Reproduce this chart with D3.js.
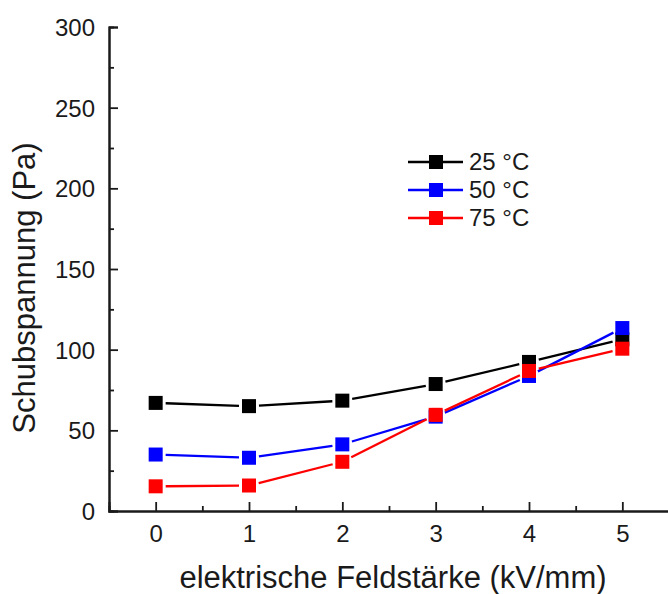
<!DOCTYPE html>
<html>
<head>
<meta charset="utf-8">
<script src="https://cdn.jsdelivr.net/npm/d3@7"></script>
<style>
  html, body { margin: 0; padding: 0; background: #fff; }
  svg { display: block; font-family: "Liberation Sans", Arial, sans-serif; }
</style>
</head>
<body>
<svg id="chart" width="668" height="594"></svg>
<script>
// Electric field strength (kV/mm)
const fieldStrength = [0, 1, 2, 3, 4, 5];

// Shear stress (Pa) per temperature
const stress25 = [67, 65, 68.4, 78.7, 92.4, 106.4];
const stress50 = [35, 33, 41.3, 58.5, 83.7, 113.4];
const stress75 = [15.3, 15.8, 30.5, 59.6, 86.8, 100.6];

// Standard deviations (Pa)
const err25 = [1, 1, 1, 1.5, 1.5, 2];
const err50 = [1, 1, 1.5, 3, 3.5, 2];
const err75 = [1, 1, 3.5, 4, 2, 1.5];

const seriesNames = ["25 °C", "50 °C", "75 °C"];
const seriesColors = ["#000000", "#0000ff", "#ff0000"];

const yTicks = [0, 50, 100, 150, 200, 250, 300];
const xTicks = [0, 1, 2, 3, 4, 5];

const series = [
  { name: seriesNames[0], color: seriesColors[0], values: stress25, errors: err25 },
  { name: seriesNames[1], color: seriesColors[1], values: stress50, errors: err50 },
  { name: seriesNames[2], color: seriesColors[2], values: stress75, errors: err75 }
];

const svg = d3.select("#chart");
const plotLeft = 109, plotRight = 669, plotTop = 27, plotBottom = 511;
const ink = "#1a1a1a";

const x = d3.scaleLinear().domain([-0.5, 5.5]).range([plotLeft, plotRight]);
const y = d3.scaleLinear().domain([0, 300]).range([plotBottom, plotTop]);

// Axes with inward ticks
const yAxis = svg.append("g").attr("transform", `translate(${plotLeft},0)`)
  .call(d3.axisLeft(y).tickValues(yTicks).tickSize(-9).tickPadding(14).tickFormat(d3.format("d")));
const yMinor = svg.append("g").attr("transform", `translate(${plotLeft},0)`)
  .call(d3.axisLeft(y).tickValues(d3.range(25, 300, 50)).tickSize(-5).tickFormat(""));
const xAxis = svg.append("g").attr("transform", `translate(0,${plotBottom})`)
  .call(d3.axisBottom(x).tickValues(xTicks).tickSize(-9).tickPadding(14).tickFormat(d3.format("d")));
const xMinor = svg.append("g").attr("transform", `translate(0,${plotBottom})`)
  .call(d3.axisBottom(x).tickValues(d3.range(0.5, 5, 1)).tickSize(-5).tickFormat(""));

[yAxis, yMinor, xAxis, xMinor].forEach(g => {
  g.selectAll(".domain").attr("stroke", ink).attr("stroke-width", 2);
  g.selectAll(".tick line").attr("stroke", ink).attr("stroke-width", 1.8);
  g.selectAll(".tick text").attr("font-size", 24).attr("fill", ink)
    .attr("font-family", "'Liberation Sans', Arial, sans-serif");
});
yAxis.selectAll(".tick text").attr("dy", "0.35em");

// Axis titles
svg.append("text")
  .attr("transform", `translate(35,288) rotate(-90)`)
  .attr("text-anchor", "middle").attr("font-size", 31).attr("fill", ink)
  .text("Schubspannung (Pa)");
svg.append("text")
  .attr("x", 393).attr("y", 588)
  .attr("text-anchor", "middle").attr("font-size", 31).attr("fill", ink)
  .text("elektrische Feldstärke (kV/mm)");

const sq = 14, gap = 10;

// Connecting segments, stopping short of each marker
function segments(s) {
  const segs = [];
  for (let i = 0; i < fieldStrength.length - 1; i++) {
    const x0 = x(fieldStrength[i]), y0 = y(s.values[i]);
    const x1 = x(fieldStrength[i + 1]), y1 = y(s.values[i + 1]);
    const len = Math.hypot(x1 - x0, y1 - y0);
    const ux = (x1 - x0) / len, uy = (y1 - y0) / len;
    segs.push([x0 + ux * gap, y0 + uy * gap, x1 - ux * gap, y1 - uy * gap]);
  }
  return segs;
}

const drawOrder = [0, 1, 2];
drawOrder.forEach(k => {
  const s = series[k];
  const g = svg.append("g");
  g.selectAll("line.seg").data(segments(s)).join("line")
    .attr("x1", d => d[0]).attr("y1", d => d[1])
    .attr("x2", d => d[2]).attr("y2", d => d[3])
    .attr("stroke", s.color).attr("stroke-width", 2.3);
});
drawOrder.forEach(k => {
  const s = series[k];
  const g = svg.append("g");
  const pts = fieldStrength.map((f, i) => ({ f, v: s.values[i], e: s.errors[i] }));
  // error bars
  g.selectAll("path.err").data(pts).join("path")
    .attr("d", d => {
      const cx = x(d.f), yt = y(d.v + d.e), yb = y(d.v - d.e);
      return `M${cx - 4},${yt}H${cx + 4}M${cx},${yt}V${yb}M${cx - 4},${yb}H${cx + 4}`;
    })
    .attr("stroke", s.color).attr("stroke-width", 1).attr("fill", "none").attr("opacity", 0.7);
  g.selectAll("rect.mk").data(pts).join("rect")
    .attr("x", d => x(d.f) - sq / 2).attr("y", d => y(d.v) - sq / 2)
    .attr("width", sq).attr("height", sq)
    .attr("fill", s.color);
});

// Legend
const legend = svg.append("g");
const legendY = [162, 190, 218];
series.forEach((s, i) => {
  const row = legend.append("g").attr("transform", `translate(0,${legendY[i]})`);
  row.append("line").attr("x1", 408).attr("x2", 463).attr("y1", 0).attr("y2", 0)
    .attr("stroke", s.color).attr("stroke-width", 2.3);
  row.append("rect").attr("x", 436 - sq / 2).attr("y", -sq / 2)
    .attr("width", sq).attr("height", sq).attr("fill", s.color);
  row.append("text").attr("x", 469).attr("y", 0).attr("dy", "0.35em")
    .attr("font-size", 24).attr("fill", ink).text(s.name);
});
</script>
</body>
</html>
